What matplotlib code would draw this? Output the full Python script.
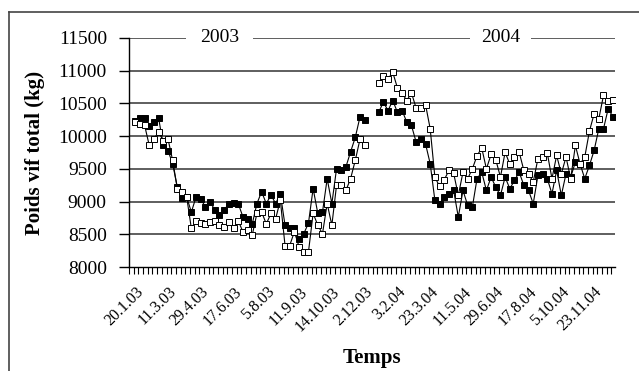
import matplotlib
matplotlib.use("Agg")
import matplotlib.pyplot as plt
import numpy as np

plt.rcParams['font.family'] = ['Liberation Serif', 'DejaVu Serif']

# weekly total live weight, 2003 (50 weeks), 2 missing weeks, 2004 (51 weeks)
black_2003 = [10238, 10280, 10280, 10160, 10210, 10280, 9860, 9780, 9580, 9220,
              9060, 9070, 8840, 9070, 9040, 8920, 9000, 8870, 8790, 8870,
              8970, 8980, 8970, 8770, 8740, 8660, 8970, 9150, 8970, 9100,
              8970, 9120, 8640, 8590, 8590, 8430, 8510, 8670, 9200, 8820,
              8840, 9350, 8970, 9500, 9480, 9530, 9760, 9980, 10290, 10250]
open_2003 = [10210, 10190, 10170, 9860, 9960, 10060, 9930, 9960, 9630, 9200,
             9150, 9070, 8590, 8710, 8670, 8660, 8690, 8710, 8640, 8610,
             8690, 8590, 8710, 8540, 8560, 8490, 8820, 8840, 8660, 8820,
             8740, 9020, 8330, 8330, 8540, 8310, 8230, 8230, 8820, 8640,
             8510, 8970, 8640, 9250, 9250, 9170, 9350, 9630, 9950, 9870]
gap = [np.nan, np.nan]
black_2004 = [10365, 10517, 10390, 10543, 10365, 10390, 10213, 10162, 9908, 9959,
              9882, 9578, 9019, 8968, 9070, 9120, 9171, 8765, 9171, 8943,
              8917, 9350, 9450, 9171, 9374, 9222, 9095, 9374, 9197, 9324,
              9450, 9247, 9171, 8968, 9400, 9425, 9350, 9120, 9476, 9095,
              9425, 9374, 9603, 9577, 9350, 9552, 9781, 10111, 10111, 10416, 10299]
open_2004 = [10807, 10924, 10873, 10975, 10736, 10655, 10543, 10660, 10426, 10426,
             10482, 10111, 9374, 9232, 9334, 9476, 9435, 9095, 9450, 9350,
             9500, 9700, 9820, 9500, 9720, 9640, 9374, 9755, 9570, 9680,
             9755, 9476, 9425, 9300, 9654, 9680, 9740, 9350, 9705, 9425,
             9680, 9350, 9857, 9577, 9680, 10075, 10340, 10263, 10620, 10533, 10550]

date_labels = ['20.1.03', '11.3.03', '29.4.03', '17.6.03', '5.8.03', '11.9.03',
               '14.10.03', '2.12.03', '3.2.04', '23.3.04', '11.5.04', '29.6.04',
               '17.8.04', '5.10.04', '23.11.04']
y_ticks = [8000, 8500, 9000, 9500, 10000, 10500, 11000, 11500]

black = np.array(black_2003 + gap + black_2004, dtype=float)
white = np.array(open_2003 + gap + open_2004, dtype=float)
x = np.arange(len(black))

fig = plt.figure(figsize=(6.39, 3.71), dpi=100)
ax = fig.add_axes([0.202, 0.280, 0.760, 0.618])

# outer frame (top and left edge only visible)
fig.add_artist(plt.Line2D([9/639, 9/639], [0, 1 - 12/371], color='#444444', lw=1.2))
fig.add_artist(plt.Line2D([9/639, 1], [1 - 12/371, 1 - 12/371], color='#444444', lw=1.2))

for v in y_ticks[1:]:
    ax.axhline(v, color='#333333', lw=1.1, zorder=1)

ax.plot(x, black, '-', color='black', lw=0.8, marker='s', ms=3.8,
        mfc='black', mec='black', mew=0.7, zorder=3)
ax.plot(x, white, '-', color='black', lw=0.8, marker='s', ms=3.8,
        mfc='white', mec='black', mew=0.7, zorder=4)

ax.text(18, 11500, '2003', ha='center', va='center', fontsize=14,
        bbox=dict(facecolor='white', edgecolor='none', pad=10), zorder=5)
ax.text(78, 11500, '2004', ha='center', va='center', fontsize=14,
        bbox=dict(facecolor='white', edgecolor='none', pad=8), zorder=5)

ax.set_xlim(-1.3, 102.4)
ax.set_ylim(8000, 11500)
ax.set_yticks(y_ticks)
ax.tick_params(axis='y', direction='out', length=7, width=1, pad=9, labelsize=14)

ax.set_xticks(np.arange(0, 99, 7))
ax.set_xticklabels(date_labels, rotation=45, ha='right', rotation_mode='anchor', fontsize=11.5)
ax.set_xticks(np.arange(-1.3, 102.5, 1), minor=True)
ax.tick_params(axis='x', which='major', length=0, pad=12)
ax.tick_params(axis='x', which='minor', direction='out', length=5, width=0.8)

for s in ['top', 'right']:
    ax.spines[s].set_visible(False)
ax.spines['left'].set_linewidth(1)
ax.spines['bottom'].set_linewidth(1)

ax.set_ylabel('Poids vif total (kg)', fontsize=15, fontweight='bold', labelpad=9)
fig.text(0.582, 1 - 358/371, 'Temps', ha='center', va='center', fontsize=15, fontweight='bold')

fig.savefig('out.png', dpi=100)
